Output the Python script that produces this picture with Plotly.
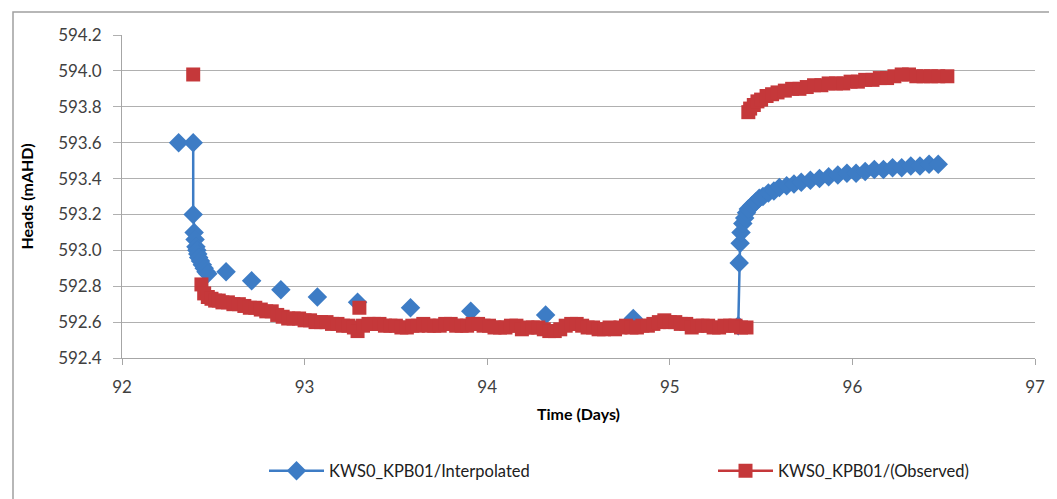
import plotly.graph_objects as go

# ---- data ----
# Interpolated series: three pieces (drop, sparse points, rise)
interp_drop_t = [92.31, 92.39, 92.39, 92.395, 92.40, 92.405, 92.41, 92.415, 92.42, 92.43, 92.44, 92.45, 92.46, 92.47]
interp_drop_h = [593.60, 593.60, 593.20, 593.10, 593.06, 593.02, 593.00, 592.98, 592.96, 592.94, 592.92, 592.90, 592.88, 592.87]

interp_sparse_t = [92.57, 92.71, 92.87, 93.07, 93.29, 93.58, 93.91, 94.32, 94.80]
interp_sparse_h = [592.88, 592.83, 592.78, 592.74, 592.71, 592.68, 592.66, 592.64, 592.62]

interp_rise_t = [95.375, 95.38, 95.385, 95.39, 95.40, 95.41, 95.42, 95.43, 95.45, 95.47, 95.49, 95.51,
                 95.54, 95.57, 95.60, 95.64, 95.68, 95.72, 95.77, 95.82, 95.87, 95.92, 95.97, 96.02,
                 96.07, 96.12, 96.17, 96.22, 96.27, 96.32, 96.37, 96.42, 96.47]
interp_rise_h = [592.58, 592.93, 593.04, 593.10, 593.15, 593.18, 593.21, 593.23, 593.25, 593.27, 593.29, 593.30,
                 593.32, 593.33, 593.35, 593.36, 593.37, 593.38, 593.39, 593.40, 593.41, 593.42, 593.43, 593.43,
                 593.44, 593.45, 593.45, 593.46, 593.46, 593.47, 593.47, 593.48, 593.48]

# Observed series
obs_t = [92.39, 92.435, 92.45, 92.47, 92.49, 92.51, 92.53, 92.55, 92.58, 92.61, 92.64, 92.67, 92.70,
         92.73, 92.76, 92.79, 92.82, 92.85, 92.88, 92.91, 92.94, 92.97, 93.00, 93.03, 93.06, 93.09,
         93.12, 93.15, 93.18, 93.21, 93.24, 93.27, 93.30, 93.29, 93.32, 93.35, 93.38, 93.41, 93.44,
         93.47, 93.50, 93.53, 93.56, 93.59, 93.62, 93.65, 93.68, 93.71, 93.74, 93.77, 93.80, 93.83,
         93.86, 93.89, 93.92, 93.95, 93.98, 94.01, 94.04, 94.07, 94.10, 94.13, 94.16, 94.19, 94.22,
         94.25, 94.28, 94.31, 94.34, 94.37, 94.40, 94.43, 94.46, 94.49, 94.52, 94.55, 94.58, 94.61,
         94.64, 94.67, 94.70, 94.73, 94.76, 94.79, 94.82, 94.85, 94.88, 94.91, 94.94, 94.97, 95.00,
         95.03, 95.06, 95.09, 95.12, 95.15, 95.18, 95.21, 95.24, 95.27, 95.30, 95.33, 95.36, 95.39,
         95.42,
         95.43, 95.44, 95.46, 95.48, 95.50, 95.53, 95.56, 95.59, 95.63, 95.67, 95.71, 95.75, 95.79,
         95.83, 95.87, 95.91, 95.95, 95.99, 96.03, 96.07, 96.11, 96.15, 96.19, 96.23, 96.27, 96.31,
         96.35, 96.39, 96.43, 96.47, 96.52]
obs_h = [593.98, 592.81, 592.76, 592.74, 592.73, 592.72, 592.72, 592.71, 592.71, 592.70, 592.70, 592.69, 592.68,
         592.68, 592.67, 592.66, 592.66, 592.64, 592.63, 592.62, 592.62, 592.62, 592.61, 592.61, 592.60, 592.60,
         592.60, 592.59, 592.59, 592.58, 592.58, 592.57, 592.68, 592.55, 592.58, 592.59, 592.59, 592.59, 592.58,
         592.58, 592.58, 592.57, 592.57, 592.58, 592.58, 592.59, 592.58, 592.58, 592.58, 592.59, 592.59, 592.58,
         592.58, 592.58, 592.59, 592.59, 592.58, 592.58, 592.57, 592.57, 592.57, 592.58, 592.58, 592.56, 592.57,
         592.57, 592.57, 592.56, 592.55, 592.55, 592.56, 592.58, 592.59, 592.59, 592.58, 592.57, 592.57, 592.56,
         592.56, 592.57, 592.56, 592.57, 592.58, 592.57, 592.57, 592.58, 592.58, 592.59, 592.60, 592.61, 592.60,
         592.60, 592.59, 592.59, 592.57, 592.58, 592.58, 592.58, 592.57, 592.57, 592.58, 592.58, 592.58, 592.57,
         592.57,
         593.77, 593.79, 593.81, 593.83, 593.84, 593.86, 593.87, 593.88, 593.89, 593.90, 593.90, 593.91, 593.92,
         593.92, 593.93, 593.93, 593.93, 593.94, 593.94, 593.95, 593.95, 593.96, 593.96, 593.97, 593.98, 593.98,
         593.97, 593.97, 593.97, 593.97, 593.97]

x_ticks = [92, 93, 94, 95, 96, 97]
y_ticks = [592.4, 592.6, 592.8, 593.0, 593.2, 593.4, 593.6, 593.8, 594.0, 594.2]

name_interp = "KWS0_KPB01/Interpolated"
name_obs = "KWS0_KPB01/(Observed)"

# ---- build gapped arrays (lines only inside connected pieces) ----
bx, by = [], []
bx += interp_drop_t + [None]
by += interp_drop_h + [None]
for t, h in zip(interp_sparse_t, interp_sparse_h):
    bx += [t, None]
    by += [h, None]
bx += interp_rise_t
by += interp_rise_h

rx, ry = [], []
for t, h in zip(obs_t, obs_h):
    rx += [t, None]
    ry += [h, None]

BLUE = "#3D7CC5"
RED = "#C5383A"

fig = go.Figure()
fig.add_trace(go.Scatter(
    x=bx, y=by, mode="lines+markers", name=name_interp, connectgaps=False,
    line=dict(color=BLUE, width=2.5),
    marker=dict(symbol="diamond", size=15, color=BLUE),
    legend="legend",
))
fig.add_trace(go.Scatter(
    x=rx, y=ry, mode="lines+markers", name=name_obs, connectgaps=False,
    line=dict(color=RED, width=2.5),
    marker=dict(symbol="square", size=14, color=RED),
    legend="legend2",
))

FONT = "Lato, Carlito, 'Open Sans', sans-serif"
L, R, T, B = 114, 30, 27, 149
W, H = 1057, 499
pw, ph = W - L - R, H - T - B

def px_x(p):
    return (p - L) / pw

def px_y(p):
    return (H - B - p) / ph

legend_common = dict(
    orientation="h", xanchor="left", yanchor="middle", y=px_y(463),
    font=dict(family=FONT, size=16.5, color="#202020"),
    itemwidth=55, bgcolor="rgba(0,0,0,0)",
)

fig.update_layout(
    width=W, height=H,
    margin=dict(l=L, r=R, t=T, b=B, pad=0),
    paper_bgcolor="white", plot_bgcolor="white",
    font=dict(family=FONT, size=15, color="#404040"),
    showlegend=True,
    legend=dict(x=px_x(256), **legend_common),
    legend2=dict(x=px_x(705), **legend_common),
    xaxis=dict(
        range=[92, 97], tickvals=x_ticks, ticktext=[str(v) for v in x_ticks],
        showgrid=False, zeroline=False,
        showline=True, linecolor="#A6A6A6", linewidth=1,
        ticks="outside", ticklen=6, tickcolor="#A6A6A6",
        ticklabelstandoff=8,
        tickfont=dict(family=FONT, size=17, color="#404040"),
        title=dict(text="<b>Time (Days)</b>", font=dict(family=FONT, size=16, color="#000000"), standoff=12),
    ),
    yaxis=dict(
        range=[592.4, 594.2], tickvals=y_ticks, ticktext=[f"{v:.1f}" for v in y_ticks],
        showgrid=True, gridcolor="#B0B0B0", gridwidth=1, zeroline=False,
        showline=True, linecolor="#A6A6A6", linewidth=1,
        ticks="outside", ticklen=8, tickcolor="#B0B0B0",
        ticklabelstandoff=8,
        tickfont=dict(family=FONT, size=17, color="#404040"),
        title=dict(text="<b>Heads (mAHD)</b>", font=dict(family=FONT, size=16, color="#000000"), standoff=20),
    ),
    shapes=[dict(
        type="rect", xref="paper", yref="paper",
        x0=px_x(5), x1=px_x(1051), y0=px_y(496), y1=px_y(4),
        line=dict(color="#A0A0A0", width=1.5), fillcolor="rgba(0,0,0,0)", layer="below",
    )],
)

fig.write_html("out.html")
